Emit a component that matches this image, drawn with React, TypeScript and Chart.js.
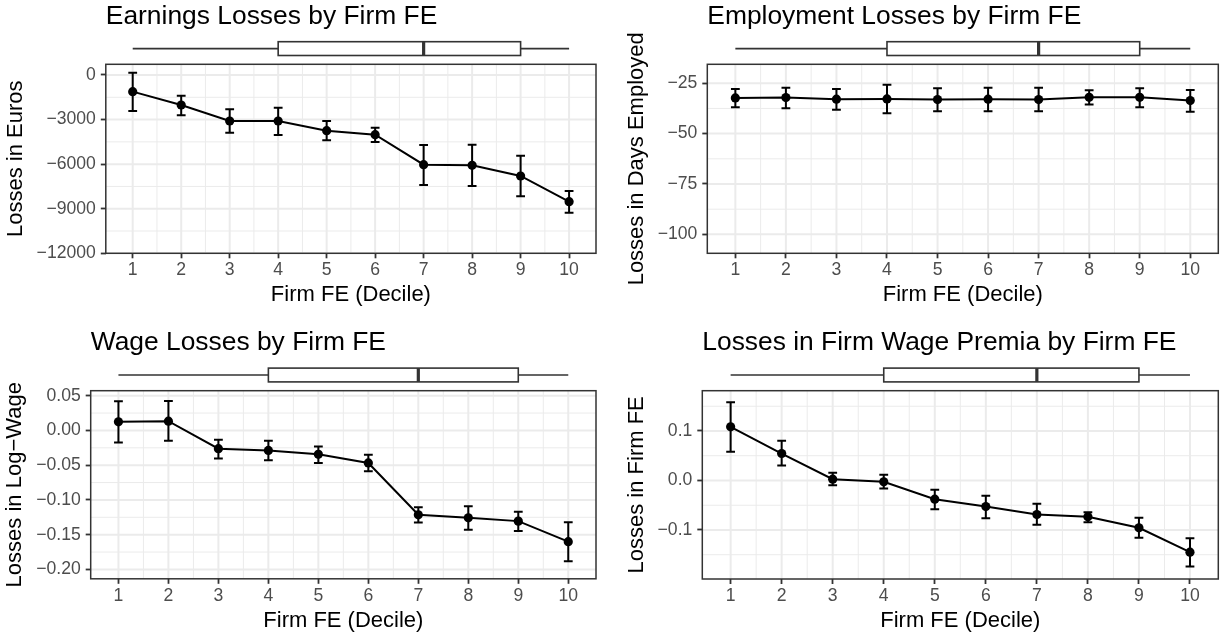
import React, { useEffect, useRef } from "react";
import { Chart, registerables } from "chart.js";

Chart.register(...registerables);

// ---------- data ----------
const deciles = [1, 2, 3, 4, 5, 6, 7, 8, 9, 10];
const xTickLabels = ["1", "2", "3", "4", "5", "6", "7", "8", "9", "10"];
// boxplot of firm FE decile: min, q1, median, q3, max
const boxStats = [1, 4, 7, 9, 10];

const earningsEst = [-1121, -2019, -3095, -3095, -3746, -4015, -6034, -6078, -6796, -8523];
const earningsLo = [-2422, -2714, -3880, -4037, -4396, -4508, -7402, -7469, -8164, -9264];
const earningsHi = [157, -1391, -2310, -2198, -3095, -3544, -4710, -4688, -5428, -7806];
const earningsTicks = [0, -3000, -6000, -9000, -12000];
const earningsTickLabels = ["0", "\u22123000", "\u22126000", "\u22129000", "\u221212000"];

const employmentEst = [-32.3, -32.1, -32.9, -32.8, -33.1, -32.9, -33.1, -32.0, -32.0, -33.6];
const employmentLo = [-36.9, -37.4, -38.2, -39.9, -38.9, -38.9, -38.9, -35.6, -36.9, -39.2];
const employmentHi = [-27.8, -27.3, -27.8, -25.7, -27.5, -27.2, -27.3, -28.5, -27.5, -28.3];
const employmentTicks = [-25, -50, -75, -100];
const employmentTickLabels = ["\u221225", "\u221250", "\u221275", "\u2212100"];

const wageEst = [0.0124, 0.0134, -0.0263, -0.0287, -0.0344, -0.0468, -0.1214, -0.1257, -0.1305, -0.1601];
const wageLo = [-0.0172, -0.0148, -0.0402, -0.043, -0.0468, -0.0588, -0.1324, -0.143, -0.1448, -0.1883];
const wageHi = [0.042, 0.0425, -0.0134, -0.0148, -0.023, -0.0349, -0.1104, -0.109, -0.117, -0.132];
const wageTicks = [0.05, 0.0, -0.05, -0.1, -0.15, -0.2];
const wageTickLabels = ["0.05", "0.00", "\u22120.05", "\u22120.10", "\u22120.15", "\u22120.20"];

const premiaEst = [0.1084, 0.0545, 0.0027, -0.0027, -0.0377, -0.0525, -0.0687, -0.0734, -0.0956, -0.1448];
const premiaLo = [0.0579, 0.0303, -0.0094, -0.0162, -0.0579, -0.0761, -0.0896, -0.0842, -0.1158, -0.1737];
const premiaHi = [0.1582, 0.0801, 0.0155, 0.0114, -0.0189, -0.031, -0.0471, -0.064, -0.0754, -0.1165];
const premiaTicks = [0.1, 0.0, -0.1];
const premiaTickLabels = ["0.1", "0.0", "\u22120.1"];

// ---------- panels ----------
type Panel = {
  title: string;
  yTitle: string;
  est: number[];
  lo: number[];
  hi: number[];
  yTicks: number[];
  yTickLabels: string[];
  yMin: number;
  yMax: number;
  // layout (page pixels)
  cx: number; cy: number; cw: number; ch: number;
  l: number; r: number; t: number; b: number;
  yTitleX: number; titleY: number;
};

const panels: Panel[] = [
  {
    title: "Earnings Losses by Firm FE", yTitle: "Losses in Euros",
    est: earningsEst, lo: earningsLo, hi: earningsHi,
    yTicks: earningsTicks, yTickLabels: earningsTickLabels, yMin: -12000, yMax: 720,
    cx: 0, cy: 0, cw: 612, ch: 319, l: 105.8, r: 596, t: 64.3, b: 253.3, yTitleX: 15.6, titleY: 16.5,
  },
  {
    title: "Employment Losses by Firm FE", yTitle: "Losses in Days Employed",
    est: employmentEst, lo: employmentLo, hi: employmentHi,
    yTicks: employmentTicks, yTickLabels: employmentTickLabels, yMin: -109.4, yMax: -15.6,
    cx: 612, cy: 0, cw: 613, ch: 319, l: 707.3, r: 1218.3, t: 64.3, b: 253.3, yTitleX: 636.7, titleY: 16.5,
  },
  {
    title: "Wage Losses by Firm FE", yTitle: "Losses in Log\u2212Wage",
    est: wageEst, lo: wageLo, hi: wageHi,
    yTicks: wageTicks, yTickLabels: wageTickLabels, yMin: -0.2135, yMax: 0.0572,
    cx: 0, cy: 319, cw: 612, ch: 319, l: 90.7, r: 596, t: 390.7, b: 578.8, yTitleX: 15, titleY: 342.5,
  },
  {
    title: "Losses in Firm Wage Premia by Firm FE", yTitle: "Losses in Firm FE",
    est: premiaEst, lo: premiaLo, hi: premiaHi,
    yTicks: premiaTicks, yTickLabels: premiaTickLabels, yMin: -0.199, yMax: 0.1814,
    cx: 612, cy: 319, cw: 613, ch: 319, l: 702.3, r: 1218.3, t: 390.7, b: 579, yTitleX: 636.7, titleY: 342.5,
  },
];

const FONT = "'Liberation Sans', Arial, Helvetica, sans-serif";
const TITLE_SIZE = 26.4;
const AXIS_TITLE_SIZE = 22;
const TICK_SIZE = 17.6;
const X_MIN = 0.445;
const X_MAX = 10.555;

function minorOf(ticks: number[], lo: number, hi: number): number[] {
  const sorted = [...ticks].sort((a, b) => a - b);
  const step = sorted[1] - sorted[0];
  const out: number[] = [];
  const cands = [sorted[0] - step / 2, ...sorted.map((v) => v + step / 2)];
  for (const c of cands) if (c > lo && c < hi) out.push(c);
  return out;
}

function makePlugin(p: Panel) {
  const xMinor = minorOf(deciles, X_MIN, X_MAX).filter((v) => v > 1 && v < 10);
  const yMinor = minorOf(p.yTicks, p.yMin, p.yMax);
  return {
    id: "panelDecor",
    beforeDatasetsDraw(chart: any) {
      const { ctx, chartArea: a, scales } = chart;
      const x = scales.x, y = scales.y;
      ctx.save();
      ctx.beginPath();
      ctx.rect(a.left, a.top, a.right - a.left, a.bottom - a.top);
      ctx.clip();
      ctx.strokeStyle = "#ebebeb";
      ctx.lineWidth = 1;
      ctx.beginPath();
      for (const v of xMinor) {
        const px = x.getPixelForValue(v);
        ctx.moveTo(px, a.top); ctx.lineTo(px, a.bottom);
      }
      for (const v of yMinor) {
        const py = y.getPixelForValue(v);
        ctx.moveTo(a.left, py); ctx.lineTo(a.right, py);
      }
      ctx.stroke();
      ctx.lineWidth = 2;
      ctx.beginPath();
      for (const v of deciles) {
        const px = x.getPixelForValue(v);
        ctx.moveTo(px, a.top); ctx.lineTo(px, a.bottom);
      }
      for (const v of p.yTicks) {
        const py = y.getPixelForValue(v);
        ctx.moveTo(a.left, py); ctx.lineTo(a.right, py);
      }
      ctx.stroke();
      // error bars
      ctx.strokeStyle = "#000";
      ctx.lineWidth = 2;
      const cap = 4.4;
      ctx.beginPath();
      deciles.forEach((d, i) => {
        const px = x.getPixelForValue(d);
        const y1 = y.getPixelForValue(p.lo[i]);
        const y2 = y.getPixelForValue(p.hi[i]);
        ctx.moveTo(px, y1); ctx.lineTo(px, y2);
        ctx.moveTo(px - cap, y1); ctx.lineTo(px + cap, y1);
        ctx.moveTo(px - cap, y2); ctx.lineTo(px + cap, y2);
      });
      ctx.stroke();
      ctx.restore();
    },
    afterDraw(chart: any) {
      const { ctx, chartArea: a, scales } = chart;
      const x = scales.x;
      ctx.save();
      // panel border
      ctx.strokeStyle = "#333333";
      ctx.lineWidth = 1.5;
      ctx.strokeRect(a.left, a.top, a.right - a.left, a.bottom - a.top);
      // boxplot above the panel
      const [mn, q1, med, q3, mx] = boxStats.map((v) => x.getPixelForValue(v));
      const top = a.top - 22.6;
      const bot = a.top - 8.8;
      const mid = (top + bot) / 2;
      ctx.strokeStyle = "#333333";
      ctx.lineWidth = 1.6;
      ctx.beginPath();
      ctx.moveTo(mn, mid); ctx.lineTo(q1, mid);
      ctx.moveTo(q3, mid); ctx.lineTo(mx, mid);
      ctx.stroke();
      ctx.fillStyle = "#ffffff";
      ctx.fillRect(q1, top, q3 - q1, bot - top);
      ctx.strokeRect(q1, top, q3 - q1, bot - top);
      ctx.lineWidth = 3.2;
      ctx.beginPath();
      ctx.moveTo(med, top); ctx.lineTo(med, bot);
      ctx.stroke();
      ctx.restore();
    },
  };
}

function PanelChart({ p }: { p: Panel }) {
  const ref = useRef<HTMLCanvasElement | null>(null);
  useEffect(() => {
    const canvas = ref.current;
    if (!canvas) return;
    const L = p.l - p.cx;
    const R = p.cw - (p.r - p.cx);
    const T = p.t - p.cy;
    const B = p.b - p.cy;
    const titleLH = TITLE_SIZE * 1.2;
    const titlePadTop = p.titleY - p.cy - titleLH / 2;
    const titlePadBottom = T - titlePadTop - titleLH;
    const axisLH = AXIS_TITLE_SIZE * 1.2;
    const tickLH = TICK_SIZE * 1.2;
    const xAxisH = p.ch - B;
    const xTitlePadBottom = xAxisH - 42 - axisLH / 2;
    const xTickPad = 16.9 - 5 - tickLH / 2;
    const yTitlePadTop = p.yTitleX - p.cx - axisLH / 2;

    const chart = new Chart(canvas, {
      type: "line",
      data: {
        datasets: [
          {
            data: deciles.map((d, i) => ({ x: d, y: p.est[i] })),
            borderColor: "#000000",
            backgroundColor: "#000000",
            borderWidth: 2,
            pointRadius: 4.6,
            pointBorderWidth: 0,
            pointBackgroundColor: "#000000",
            pointBorderColor: "#000000",
            tension: 0,
            fill: false,
          },
        ],
      },
      options: {
        responsive: false,
        animation: false,
        devicePixelRatio: 1,
        layout: { padding: { left: 0, right: R, top: 0, bottom: 0 } },
        plugins: {
          legend: { display: false },
          tooltip: { enabled: false },
          title: {
            display: true,
            text: p.title,
            align: "start",
            fullSize: false,
            color: "#000000",
            font: { family: FONT, size: TITLE_SIZE, weight: "normal" },
            padding: { top: titlePadTop, bottom: titlePadBottom },
          },
        },
        scales: {
          x: {
            type: "linear",
            min: X_MIN,
            max: X_MAX,
            afterBuildTicks: (s: any) => {
              s.ticks = deciles.map((v) => ({ value: v }));
            },
            afterFit: (s: any) => {
              s.height = xAxisH;
              s.paddingLeft = 0;
              s.paddingRight = 0;
            },
            ticks: {
              autoSkip: false,
              maxRotation: 0,
              minRotation: 0,
              padding: xTickPad,
              color: "#4d4d4d",
              font: { family: FONT, size: TICK_SIZE },
              callback: (_v: any, i: number) => xTickLabels[i],
            },
            grid: {
              drawOnChartArea: false,
              drawTicks: true,
              tickLength: 5,
              tickColor: "#333333",
              tickWidth: 1.8,
            },
            border: { display: false },
            title: {
              display: true,
              text: "Firm FE (Decile)",
              color: "#000000",
              font: { family: FONT, size: AXIS_TITLE_SIZE },
              padding: { top: 0, bottom: xTitlePadBottom },
            },
          },
          y: {
            type: "linear",
            min: p.yMin,
            max: p.yMax,
            afterBuildTicks: (s: any) => {
              s.ticks = p.yTicks.map((v) => ({ value: v }));
            },
            afterFit: (s: any) => {
              s.width = L;
              s.paddingTop = 0;
              s.paddingBottom = 0;
            },
            ticks: {
              padding: 5,
              color: "#4d4d4d",
              font: { family: FONT, size: TICK_SIZE },
              callback: (_v: any, i: number) => p.yTickLabels[i],
            },
            grid: {
              drawOnChartArea: false,
              drawTicks: true,
              tickLength: 5,
              tickColor: "#333333",
              tickWidth: 1.8,
            },
            border: { display: false },
            title: {
              display: true,
              text: p.yTitle,
              color: "#000000",
              font: { family: FONT, size: AXIS_TITLE_SIZE },
              padding: { top: yTitlePadTop, bottom: 0 },
            },
          },
        },
      },
      plugins: [makePlugin(p)],
    } as any);
    return () => chart.destroy();
  }, [p]);

  return (
    <canvas
      ref={ref}
      width={p.cw}
      height={p.ch}
      style={{ position: "absolute", left: p.cx, top: p.cy, width: p.cw, height: p.ch }}
    />
  );
}

export default function App() {
  return (
    <div
      style={{
        position: "fixed",
        left: 0,
        top: 0,
        width: 1225,
        height: 638,
        background: "#ffffff",
        overflow: "hidden",
      }}
    >
      {panels.map((p, i) => (
        <PanelChart key={i} p={p} />
      ))}
    </div>
  );
}
